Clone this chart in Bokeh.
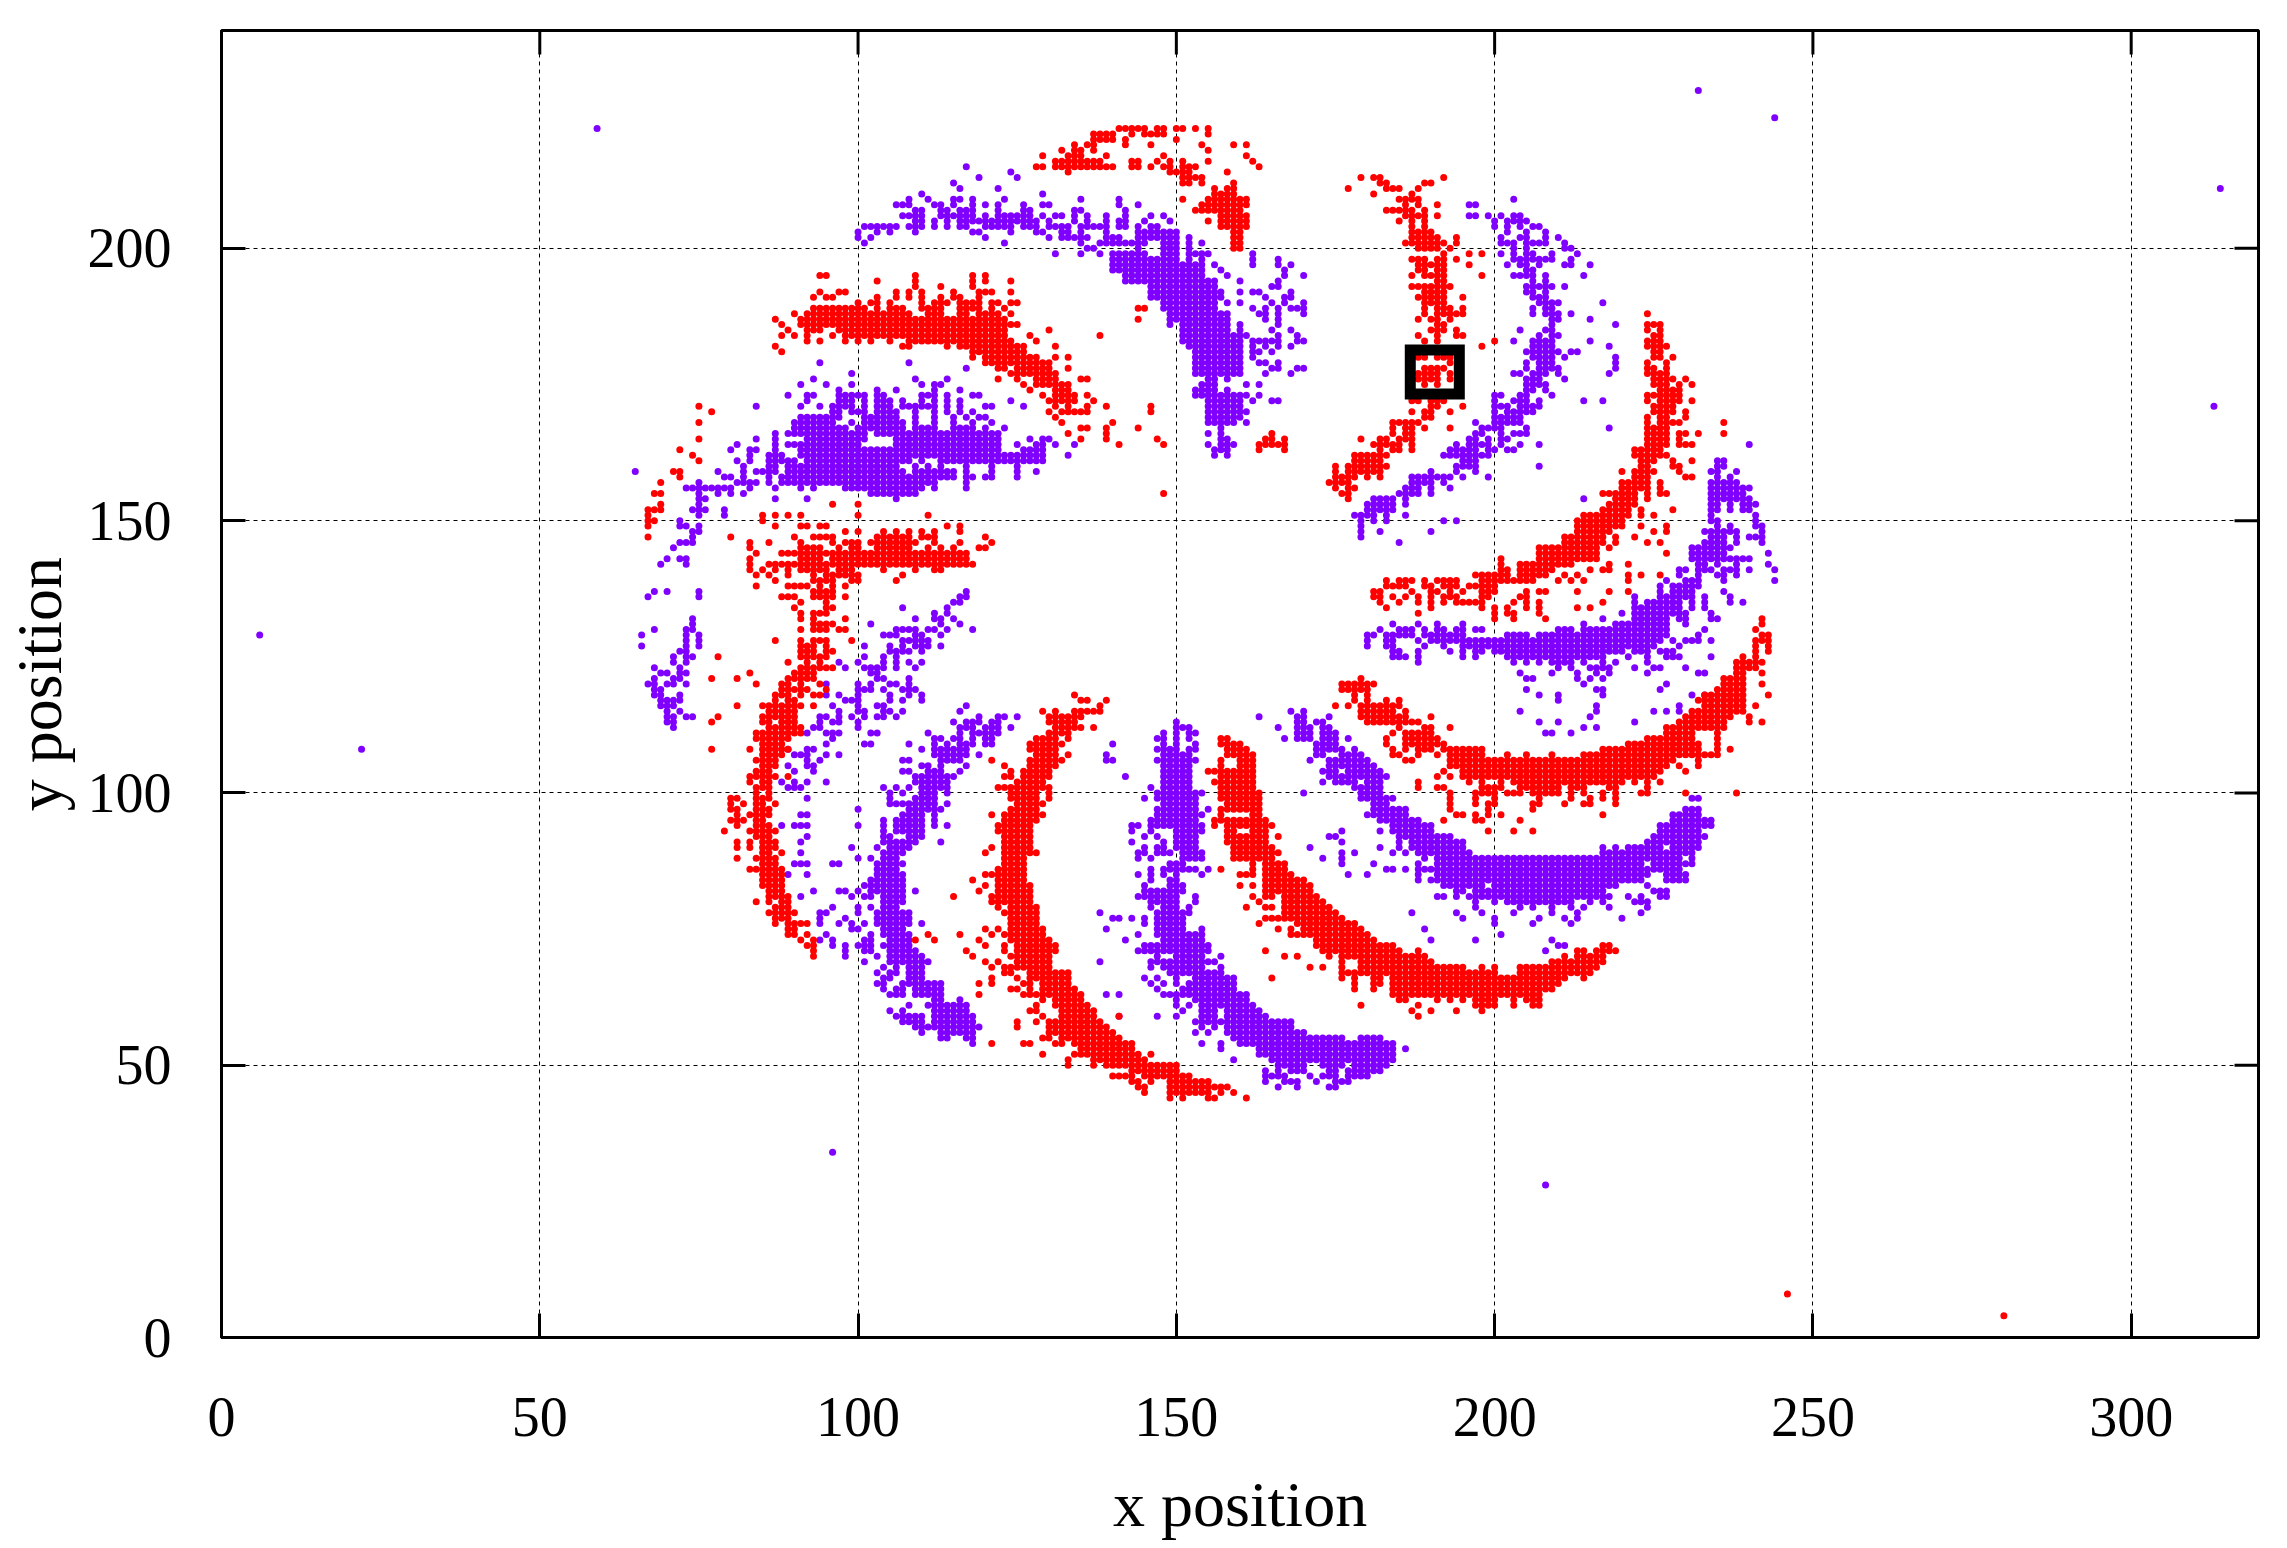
from bokeh.plotting import figure
from bokeh.models import ColumnDataSource, FixedTicker, Range1d
from bokeh.embed import file_html
from bokeh.resources import INLINE

x_ticks = [0, 50, 100, 150, 200, 250, 300]
y_ticks = [0, 50, 100, 150, 200]
x_label = "x position"
y_label = "y position"
box_x = [190.6]
box_y = [177.3]

# Each row: y, then the occupied x cells ("a-b" = an unbroken run of cells)
red_left_arm = """135 91 95
134 90 95 96
133 91 93 94 95
132 91 93 98
131 93-96
130 91 93 94 95 97 98
128 87 91 93 94 95 99
127 91 92 93 95
126 91 92 93 95 96
125 78 91-95
124 89 92 94
123 91-96
122 83 90-93
121 77 81 89-93
120 84 88 89 91 94
119 88 89 90 91 92 95
118 87 88 89 91 93 94
117 87 89 90
116 81 85-91 93
115 86-90
114 78 85-90
113 77 85 86 88 89 90
112 86-91
111 84-88 89 90 91
110 84-89
109 85-88
108 77 83 85-89
107 85-88
106 84-87
105 85-87
104 84-86
103 83-87 89
102 83 85 86
101 84-86
100 84 86
99 80 81 84 85 86
98 80 82 84 85 87
97 80 81 84 85 86
96 81 83 84 85 86
95 80 81 82 84 85
94 81 84 85 86
93 79 83 84-87
92 84-86
91 81 83 85-87
90 81 83 85-87
89 85 86 88
88 81 84-87
87 85-87
86 83-88
85 85-88
84 85-88
83 85-88
82 86-88
81 86-89
80 84 86 88 89
79 87-89
78 86-90
77 87-89
76 87 89-92
75 89 90
74 89 90 92
73 91 93
72 92 93
71 93
70 93"""

purple_far_left = """132 74
131 74
130 68 73 74
129 66 73 75
128 73 75
127 66 73 75
126 72 73
125 71 73 74
124 71 73
123 68 72
122 69 70 72 73
121 68 71 72
120 67 68 70 71 73
119 68 69
118 68 69 72
117 69-72
116 69-71
115 70 72
114 70 71 73 74
113 70 71
112 71"""

purple_third_arm_a = """135 115 116
134 107 114
133 112 114
132 109 112 113 115
131 102 113 116
130 106-109 111 112 114 118
129 104 105 106 109 110 113
128 107-111
127 101 105 107 109 110 111 113
126 105-108 110
125 101 104 106
124 97 100 104 106 108 110
123 98 101-104 106 109
122 102 103
121 103 104 108
120 95 100 102 105 106 108
119 100 101 102 104 107 108 109
118 95 97 100 105 108 110
117 98 99 100 105 107 110
116 96 100 103 104 117
115 97 100 101 104 105 107 116
114 94 95 97 99 101 103 104 106 119 122 123 125
113 94 96 97 100 115 117 118 119 121 122
112 93 94 100 116 117 118 120 121 122 124
111 92 95 96 97 102 103 111 116 118-122
110 96 112 113 115 116 118 120 121
109 95 101 102 108 112 114 116 117 118 120 121
108 89 92 93 110 112-117
107 90 91 92 95 97 112-117 119
106 92 94 107 108 113-116
105 89 92 93 110 111 113 117
104 90 93 107 108 111 112 113 116
103 109-115
102 88 90 92 95 109-114
101 89 90 91 104 106 108 110-114
100 105 107 110 111 112 114
99 92 105 109-112
98 105 106 107 108-112 114
97 100 108-113
96 91 92 107-110 112
95 104 106-110 112
94 88 90 91 92 100 104 106-110 112 114
93 104 106-110
92 92 104 105 108 109 110
91 91 104-109 113
90 99 103 105-108
89 91 104-107
88 100 102 104-106
87 90 91 92 96 97 103-107
86 103-106
85 89 92 103-107
84 102-107
83 101-107
82 93 97 98 100 102-107 109
81 91 99 101 102 104-107
80 104-107
79 96 100 102 104-106
78 94 95 100 103-108
77 94 98 103-108
76 94 97 99 101 103-108 110
75 99 100 104-107
74 95 102 104-108
73 94 96 101 102 105-108
72 96 98 100 101 102 104-108
71 98 101 102 105-109
70 98 103 105-110
69 101 105-111
68 104 106 108-110
67 103 105 106 108-110
66 104 105 108-110
65 103 104 107-113
64 104 106 107 109-113
63 105 106 107 109-113
62 112 113 116
61 108 111-117
60 105 107 112-117
59 106-110 112-118
58 107-110 112-118
57 109-119
56 110 113-118
55 113 114 117 118
54 118"""

red_second_arm = """118 134
117 135 136 139
116 138
115 129 131 134-138
114 130-135
113 130-134
112 131-135 137
111 130-133
110 128-131 133
109 127-132
108 127-131
107 128-131 133
106 121 127-132
105 123 127-131
104 124 126-130
103 123 124 126-130
102 125-129
101 122-130
100 124-128 130
99 124-128 130
98 125-129
97 124-128
96 121 123-129
95 123-128
94 122-127
93 122-127
92 123-127
91 123-127
90 121 123-127
89 120 123-128
88 123-126
87 123-126
86 122-126
85 120-126
84 118 122-126
83 120 122-127
82 119 122-127
81 115 121-127
80 121-127
79 122 124-128
78 123-128
77 124-128
76 124-128
75 120 122 124-129
74 111 116 121 123-129
73 109 112 119 124-130
72 120 123 125-131
71 117 123 125-131
70 118 124-130
69 120 122 125-130
68 121 123-130
67 123 124 127-133
66 121 125 127 128 129-133
65 119 121 126 127 129-133
64 124 125 127 129-134
63 119 126-135
62 129 131-135
61 128 131-136
60 127 128 132-137
59 129 132-137 141
58 125 128 130-138
57 125 130-139
56 130-140
55 129 130 132-141
54 121 126 127 131 132 134-143
53 135-143
52 129 134-144 146
51 133 137-145
50 133 137 139-150
49 143-150
48 140-143 145-152
47 143 144 146 149-155
46 144 145 149-158
45 145 149-155 157 159
44 149 151 155 156 161"""

purple_third_arm_b = """113 150
112 150 151 152
111 148 150 152 153
110 147 148 150 152
109 140 148 150 153
108 147-150 152 153
107 139 148-152
106 139 140 147-153
105 148-152
104 148-152
103 142 148-152
102 148-152
101 146 148-152
100 147-154
99 145 147-153
98 148-153
97 147-153 155
96 147-154
95 146-153
94 143 144 146-154
93 143 146 150-154
92 145 147 150-153
91 143 148 150-153
90 145 147 148 150-153
89 144 145 147 148 149 151-154
88 144 146 151-154
87 149-151
86 146 148-153 155
85 144 146 148 150 154
84 146 149 150
83 145 149 150 151
82 145-151
81 144-150 153
80 146-150 153
79 146 148-150 152
78 138 147-152
77 140 141 143 145 147-151
76 145 147-151
75 139 147-151 154
74 144 147-154
73 142 148-154
72 145-155
71 144-155
70 147 150-154 157
69 138 146-156
68 146 148-154 157
67 149-157
66 145 147 150 153-159
65 146 148 150 152-159
64 147 151-159
63 139 141 148-161
62 150 153-161
61 150 152 154-162
60 151 154-156 158-163
59 141 147 150 154-156 158-164
58 153-168
57 154 156 158-168
56 153 155 158-170
55 159-176 179-182
54 154 157 160-184
53 157 163-184 186
52 163-184
51 159 165-184
50 166-170 173-176 178-183
49 164 166 168-170 174 175 177-182
48 164-167 171 173 174 175 177-180
47 164 167-169 172 175 176 177
46 166 169 174 175"""

red_fourth_arm = """110 157 158
109 157-160
108 158-161
107 158-162
106 157 160-162
105 157 160-162
104 155 156 157-162
103 157-162
102 156-162
101 157-162
100 157-163
99 157-163
98 158-163
97 157-163
96 157 162 163
95 156-164
94 156 158-165
93 158 159 162-164
92 158-164 166
91 158-164
90 159-165
89 159-166
88 159-165
87 162 164-167
86 157 162 164-167
85 160 161 162 164-168
84 164-170
83 160 162 164-171
82 164-171
81 162 164 165 167-172
80 163 167-173
79 161 164 165 167-174
78 167-175
77 164-176
76 163 169-178
75 166 168 170-179
74 168-180
73 172-181
72 172-184
71 164 173-185 188 213 214 216-219
70 167 169 174 176-189 211 213-217
69 176 179-190 209-217
68 171 173 176 179-195 198 200 204-216
67 176-178 179-200 204-215
66 165 176 178 181 182 184-211 214
65 178 181 182 184-210
64 178 181 184-209
63 184-207
62 185 186 191 193 195 197-200 203 205-207
61 179 188 197-200 203 206 207
60 187 190 194 198
59 188
72 217 218"""

red_fifth_arm = """132 242 200 203 208
131 242
130 241
129 242 243
128 241 242 243
127 241 243
126 241 243
125 239 241
124 238-242
123 238-241
122 238 239 242
121 179 236-239
120 176-181 236-239 242
119 176-180 235-239
118 178 180 233-239 243
117 178 180 183 185 232-239
116 175 177 179-185 233-239 241
115 179-184 186 231-239
114 179-186 190 230-237 240
113 180-188 229-236 240 242
112 185 189 190 193 227-236
111 184 186-190 227-231 235
110 183 186-191 224-231 235
109 183 186-192 221-232 235
108 184 186 188 189 190 192-198 217-232 235 237
107 184 185 188 191 193-198 202 205 209 214-235
106 186 187 193-195 196-199 200-228 232
105 193-227 229 232
104 192 195-226 230
103 191 193 195-225
102 188 196 198 201 203-220 222 224 226
101 188 191 192 198-201 204-210 212-214 218 219 224
100 193 197-200 202-204 206-210 212 214 217 219 223 224 230 238
99 193 197 200 207 212 215 217 219
98 193 197 199 200 206 207 211 214 215 219
97 193 199 206
96 194 195 197 199 201 217
95 192 197 198 204
93 199 203 206
139 183 185 186 187 189 191 192 193 194 198-206 210 212 214 221
138 183-186 189 190 192 193 194 196-200
137 181 182 187 190 191 193 195 198 199 200 205 207 208 213 218 221
136 181 182 184 186 188 190 192 193 194 198 199 204 205
135 182 185 188 190 192 194-198 203 205 207 217
134 183 190 198 200 202 205 207 213 215
133 188 200 202 203 207"""

purple_fourth_arm = """115 168 170
114 163 169 170 174
113 169 170 172 173
112 166 169-171 173 174
111 169-171 173-175
110 167 169-171 173-175 177
109 172-175
108 172-176 178
107 172 173 176-179
106 171 174-180
105 174-181
104 173-175 177-182
103 174-183
102 173 175-178 180-182
101 178-182
100 170 179-182
99 179-184 231 232
98 181-183
97 181-186 230-232
96 180-186 228-232
95 182-188 228-234
94 184-190 226-234
93 176 182 184-190 226-232
92 174 175 185-193 225-233
91 176 185 187-195 224-232
90 171 182 185 187-195 217 219 221-226 228-232
89 176 178 184 186 188-196 217-231
88 173 176 189 191-229 231
87 176 181 188 191-223 225-231
86 183 184 186 188-229
85 177 180 188 191-224 227-230
84 188 190-223 227-230
83 192-198 200-219 224
82 194 195 197-217 225-227
81 191 192 194 196-218 221 223 226 227
80 197 200 202-212 215 217 222 223 224
79 197 204 206 209 212 214 218 224
78 187 194 198 203 209 213 223
77 195 200 207 211 213 220
76 200 206 212
75 189
74 201
73 190 197 209
72 210 211
71 208"""

purple_right_band = """161 235 236
160 235 236
159 234 235 238
158 235 237
157 234-238
156 234-240
155 234-239
154 234-240
153 234 235 237 239 240 241
152 234 235 237 239 240
151 234 241
150 234 235 241
149 235 237 241 242
148 233-238 242
147 234-236 238 240 241 242
146 233-236 238 242
145 231-237
144 231-236 243
143 231-240
142 232 233 235 238 243
141 229 230 232 233 234 236 237 238 240 244
140 229 232 235 236 238
139 227 230 231 232 236 244
138 226 228-232
137 226 228-231 236
136 222 226-231 233 237
135 222 224-229 231 233 237 239
134 222-229 231 233
133 220 222-229 230 234
132 217 222-227 229 230 234 235
131 184 188 191 195 214 219-227 230
130 182 185-187 189 191 192 194 195 197 198 210-212 214-227 233
129 180 181 183-187 189-195 202-205 207-227 232
128 180 183 184 188 190-225 226 228 230 231 232 234
127 180 183 184 189 192 195-225 229
126 184 185 188 193 195 197 198 200-220 222-224 226-228
125 184-186 188 195 197 202-216 217 221 224 227-229 234
124 188 203 205 207 209-212 214 217 219 224
123 210 212 215-218 222 225 226 230
122 204 209 213 216 218 224 232 233
121 205 206 213 215 217
120 214 227
119 205 216 217 226
118 207 210 217 231 233
117 210
116 216 229
115 204 216 225 227 229
114 215
113 207 210 222
112 214 216
111 208 209 212"""

purple_upper_right = """209 203
208 196 197
206 196 197 199 201 203 204
205 200 202 203 204 205
204 200 202 204 206 207
203 202 205 208
202 201 204 205 208 210
201 201 202 203 205-208 211
200 203 205 211 212
199 201 203 205 206 209 213
198 203-209 212
197 202 204 205 207 211 212 215
196 205 206
195 203-206 208 214
194 206 208
193 205-209 211
192 205 206 208
191 206 207 208
190 207-210 217
189 206 208 209
188 206 208 209 210 212
187 209 210 215
186 209 219
185 204 208 209
184 207 209 210
183 203 206-209 215
182 206-209 218
181 205-210 212 213
180 206-209 211 219
179 205 207 208 209 219
178 205 207-210 219
177 203 204 206 207 208 210 218
176 205 206 207 211
175 205-208
174 205 206 208
173 200 201 204 205 209
172 200 203-205 207 214 217
171 200 201 202 204-207
170 200 202-206
169 200-204
168 197 200-204
167 198-201 205 218
166 197 198 201 203 204 205
165 196 197 199 201 202
164 194 196-199 201 204 207 240
163 193-197 199 200 202 203
162 192-199
161 195 196 197
160 194-197 207
159 190 194 197
158 187-193 195 199
157 187-190 192
156 186 187 188 190 193
155 185-188 190
154 181-184 186 214
153 180-184 186
152 180-184
151 178-181 183 186
150 179 181 183 192 194
149 179
148 179 182 190
147 179
146 185"""

red_upper_right = """213 179 181 182 192
212 182 183 189 190
211 177 183 184 185 188
210 181 187
209 185-188
208 186 188 191
207 183-187 189
206 186-189 191
205 185 187 189
204 187 189
203 187-190
202 187-191 194
201 186-192 194
200 188-191 193
199 192 196 198
198 187 188 189 191 192 194
197 188-192 196
196 188 189 191 192
195 187 189-192 198
194 191 192
193 187-193
192 189-192
191 188-192 195
190 189-192
189 189 191 192 193 195
188 189 191-195
187 188 190 191 193
186 191 192
185 190 191 192 194
184 188 191 194 195
183 189 191 200
182 198
180 188 189 191 192 193
179 193
178 189-192
177 188-191 193
176 188-191 193
175 189 191
172 187 188 190 191 192
171 190 191 195
170 187 189 190 193
169 189 190
168 184-188
167 184 186 187 189 193
166 184 186 187
165 179 182 183 185 186 187
164 181-185 187
163 182 184 185 187
162 178-183
161 178-182
160 175 177-183
159 175 177-182
158 175-178 180 182
157 174-177
156 175 177 178
155 176 177
154 177"""

red_right_arm = """188 224
186 224 225 226
185 224 226
184 225 226
183 224 225 226
182 224-227
181 225 226
180 225 226 228
179 224 227
178 224 225 227
177 224-227
176 225-228 230
175 225-227 229 231
174 226-229
173 224-229
172 224 226-229 231
171 225-228
170 225-228 230
169 224 226 227 230
168 224 226-229 236
167 224-227
166 224-227 229 230 232 236
165 224-227 229
164 224-227 229-231
163 222-226
162 222-227
161 223-225 228 231
160 223 224 228 229
159 220 222-225 229
158 222-224 230 231
157 220-224 226
156 220-224 226
155 217-222 224 226 227
154 219-222 224
153 218-222
152 217-221 223 228
151 214-221 223 225
150 213-220
149 213-220 223 227
148 213-218 225 227
147 211-217 219 222
146 211-217 219 224 226
145 207-216 218
144 207-216 227
143 201 207-216
142 201 204-212 218 221
141 201 202 204-209 215 217 218
140 197-202 204-208 211 213 221 223 226"""

red_top = """222 141-145 147 148 150 151 153 155
221 137-140 143 145-148 155
220 137-140 142 150
219 134 136 137 142 146 154 159 161
218 132 134 135 137 155
217 129 133-135 139 148 161
216 131-138 143 144 147 149 151 155 162
215 128 129 131-140 143 144 146 148 149 151-153 163
214 133 149-152 158
213 151-154
212 151 152 154 159
211 156 158 159
210 156-159
209 151 155-161
208 154-161
207 153-160
206 157-161
205 155 157-161
204 157-161
203 159 160
202 159 160
201 159 160
200 159 160
166 165
165 164 165 167
164 163-167
163 163 167
189 144 145
187 144
184 138
155 148"""

purple_top_band = """215 117
214 124
213 119 125
212 115
211 116 122
210 110 129
209 108 111 115 116 118 123 135 141
208 106 107 108 112 113 115 118 120 122 126 129 130 141 144
207 109 110 113 114 116 117 118 122 126 127 134 135 142
206 107-110 113-118 120 122-127 129 131 132 134 136 139 142 146 148
205 109 110 112 114 116-128 130 134 136 139 141 142 145 149
204 101-106 108 109 110 112 114 116 117 120-124 126-128 130-133 135-139 141 142 144 146 147
203 100 103 105 109 118 119 124 128 129 132 133 135 139 144-150
202 100 102 120 130 132-136 139-141 144-150 152
201 101 123 135 138-145 148-150 152 154
200 136 137 144 148-150 152
199 131 135 138 140-145 148-150 152-155 162
198 140-150 152 154 162 166
197 140-154 156 162 166 168
196 140-154 157 167
195 142-154 158 167 170
194 142-156 160 166
193 146-156 165 166
192 146-157 160 162 163 168
191 146-157 164 167 168
190 148-156 158 160 165 167 170
189 148-156 162 164 166 168 169 170
188 149-158 163 164 166 170
187 149-158 164 166
186 149 151-158 160 166
185 151-158 160 165 168
184 151-161 166 169
183 151-160 162-166 169 170
182 152-160 162 164 166 168
181 153-160 162 163 165
180 153-160 162
179 153-160 163 164 166
178 153-160 165 166 169 170
177 153-160 164 168
176 155 156 158
175 154-156 161 163
174 153-156 158
173 153-161 163
172 155-160 162 165 166
171 155-160
170 155-161
169 155-160
168 155-159 161
167 157
166 155 157
165 157 158
164 155 157-159
163 156 157 158
162 156 158"""

red_second_band = """195 94 95 109 118 120
194 103 109 118 120 124
193 109 113 118
192 94 97 98 106 108 110 115 119 120 121 124
191 93 95 96 103 106 108 110 113 115 116 119
190 100 102 103 105 110 112 113 114 116-119 121 122 124 125
189 93-101 103 105-107 110-113 116-119 121 123
188 90 92-108 111-113 116 117 119-122 124
187 87 91-123
186 88 91-125
185 89 92-94 97-123 130
184 88 90 92 96 98-123 127
183 92 94 98 100 102 105 108-124 128
182 87 107 108 114 116-126 131
181 88 118-126
180 118 120-128 131 133
179 120-130
178 122 123 125-130 133
177 124-131
176 122 125 128-131 135 136
175 126 128-133
174 127 131 132 133
173 129 131-134 136
172 130-134 137
171 131 133 136 139 146
170 130 132-136 146
169 131
168 132 140
167 135 136 139 144
166 133 139
165 135 139 147
164 141 148"""

purple_blob = """179 94 108
178 117
177 99
176 93 109 114
175 91 95 99 110 112 113
174 97 103 106 112 116
173 89 92 93 97-101 103 104 110-112 114 118 119
172 92 97-99 101 103-105 107 110 112 114 116 124
171 84 91 94 96-99 101 103-105 107-112 114 116 120 121 126
170 96 97 99 100 101 103-106 109 112 114 116 118
169 91-97 101-106 109 112 115 117 119 120
168 90-96 99 101-107 109 112 115 118 121
167 90-98 100-107 109-112 115-118 120 123
166 87 89-101 103-122
165 84 87 92-101 106-122 127 129 130
164 81 87 89-100 106-122 125 128 129 131 134
163 80 83 84 87 91-122 126-129
162 83 86-88 91-129 133
161 81 83 86-90 92-108 110 113-129
160 82 86 87 89-106 109 111 113 117 121 125
159 65 78 82 84-87 89-107 109-115 117 121 125 128
158 79 80 82 86 88-115 117 118 120 121 125
157 75 81-84 86 88-112 117
156 73-80 83 87 91 93 98-110 112 117
155 75 78 80 82 102-109
154 75 76 87 92 106
153 75
152 74 75 76 79
151 75 79
150 72
149 72 73 75
148 74 75
147 74
146 72 73 74
145 71
143 70 72 73
142 69 73
137 68 70 75 117
136 67 75 116 117"""

red_far_left = """171 75
170 77
168 75
165 75
163 72
162 74
161 75
159 71 72
158 72
157 69
155 68 69
153 69
152 67 68 69
151 67
150 67 68
149 67
147 67 80"""

red_mid_band = """153 96 100
151 85 87 89 91 100 111
150 85
149 87 91 92 94 95 114 116
148 98 100 104 106 108 110 112 116
147 90 93-96 103-108 110-112 120
146 83 86 91 96 98-100 102-109 112 116 121
145 83 91-94 97 99 100 103-108 111 113 115 119 120
144 84 88-117
143 83 91-94 96-117
142 83 86-118
141 83 85 87 89 91-95 97-99 104 109 112 113
140 84 86 89 93 95-100 107
139 87 93-96 99 100 106
138 84 89-92 94 96 98
137 93-96
136 88-90 93-96 98"""

purple_outliers = """222 59
229 232
224 244
211 314
171 313
129 6
108 22
34 96
28 208"""

red_outliers = """8 246
4 280"""


def cells(*blocks):
    xs, ys = [], []
    for block in blocks:
        for row in block.splitlines():
            y, *tokens = row.split()
            for tok in tokens:
                a, _, b = tok.partition("-")
                for x in range(int(a), int(b or a) + 1):
                    xs.append(x)
                    ys.append(int(y))
    return xs, ys


purple_x, purple_y = cells(purple_far_left, purple_third_arm_a, purple_third_arm_b,
                           purple_fourth_arm, purple_right_band, purple_upper_right,
                           purple_top_band, purple_blob, purple_outliers)
red_x, red_y = cells(red_left_arm, red_second_arm, red_fourth_arm, red_fifth_arm,
                     red_upper_right, red_right_arm, red_top, red_second_band,
                     red_far_left, red_mid_band, red_outliers)

FONT = "Liberation Serif"
p = figure(width=2271, height=1540, frame_width=2037, frame_height=1307,
           x_range=Range1d(0, 320), y_range=Range1d(0, 240),
           output_backend="svg", toolbar_location=None,
           min_border_left=213, min_border_right=21, min_border_top=30, min_border_bottom=203,
           background_fill_color="white", border_fill_color="white")
p.outline_line_color = "black"
p.outline_line_width = 3

for ax, ticks, label in ((p.xaxis[0], x_ticks, x_label), (p.yaxis[0], y_ticks, y_label)):
    ax.ticker = FixedTicker(ticks=ticks)
    ax.axis_label = label
    ax.axis_label_text_font = FONT
    ax.axis_label_text_font_size = "64px"
    ax.axis_label_text_font_style = "normal"
    ax.axis_label_text_color = "black"
    ax.major_label_text_font = FONT
    ax.major_label_text_font_size = "56px"
    ax.major_label_text_color = "black"
    ax.major_tick_in = 24
    ax.major_tick_out = 0
    ax.major_tick_line_width = 3
    ax.major_tick_line_color = "black"
    ax.minor_tick_line_color = None
    ax.axis_line_width = 3
    ax.axis_line_color = "black"
p.xaxis[0].major_label_standoff = 60
p.yaxis[0].major_label_standoff = 50
p.xaxis[0].axis_label_standoff = 30
p.yaxis[0].axis_label_standoff = 10

for g, ticks in ((p.xgrid[0], x_ticks), (p.ygrid[0], y_ticks)):
    g.ticker = FixedTicker(ticks=ticks)
    g.grid_line_color = "black"
    g.grid_line_width = 1
    g.grid_line_dash = "4 4"

# Mirror ticks on the top and right edges
x_max, y_max = 320, 240
p.segment(x0=x_ticks, x1=x_ticks, y0=[y_max] * len(x_ticks), y1=[y_max - 24 / 5.446] * len(x_ticks),
          line_color="black", line_width=3)
p.segment(x0=[x_max] * len(y_ticks), x1=[x_max - 24 / 6.365] * len(y_ticks), y0=y_ticks, y1=y_ticks,
          line_color="black", line_width=3)

p.scatter(x="x", y="y", source=ColumnDataSource(dict(x=purple_x, y=purple_y)),
          marker="circle", size=7, fill_color="#8000ff", line_color=None)
p.scatter(x="x", y="y", source=ColumnDataSource(dict(x=red_x, y=red_y)),
          marker="circle", size=7, fill_color="#ff0000", line_color=None)
p.rect(x=box_x, y=box_y, width=7.7, height=8.1, fill_color=None, line_color="black",
       line_width=11, line_join="miter")

open("out.html", "w").write(file_html(p, INLINE))
